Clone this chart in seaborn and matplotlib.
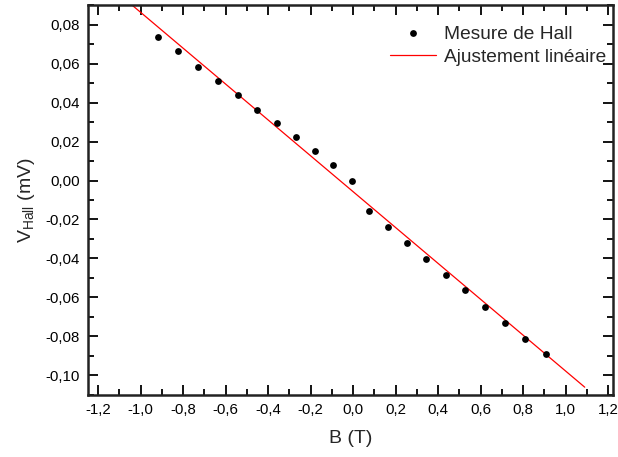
import numpy as np
import pandas as pd
import matplotlib
matplotlib.use("Agg")
import matplotlib.pyplot as plt
from matplotlib.ticker import FuncFormatter, MultipleLocator
import seaborn as sns

# Measured data (B in T, V_Hall in mV)
B_values = [-0.920, -0.825, -0.730, -0.635, -0.539, -0.451, -0.359, -0.268, -0.179,
            -0.092, -0.006, 0.076, 0.165, 0.254, 0.343, 0.435, 0.527, 0.621,
            0.714, 0.811, 0.906]
V_values = [0.0739, 0.0664, 0.0585, 0.0511, 0.0438, 0.0364, 0.0293, 0.0222, 0.0154,
            0.0082, 0.0000, -0.0159, -0.0238, -0.0320, -0.0402, -0.0483, -0.0563,
            -0.0649, -0.0729, -0.0813, -0.0892]

# Linear fit parameters
fit_slope = -0.0921
fit_intercept = -0.0057
fit_range = [-1.10, 1.09]

x_ticks = [-1.2, -1.0, -0.8, -0.6, -0.4, -0.2, 0.0, 0.2, 0.4, 0.6, 0.8, 1.0, 1.2]
y_ticks = [-0.10, -0.08, -0.06, -0.04, -0.02, 0.00, 0.02, 0.04, 0.06, 0.08]

sns.set_style("ticks")
plt.rcParams['font.family'] = ['Liberation Sans', 'DejaVu Sans']
plt.rcParams['mathtext.fontset'] = 'custom'
plt.rcParams['mathtext.rm'] = 'Liberation Sans'

data = pd.DataFrame({"B": B_values, "V": V_values})
fit_x = np.array(fit_range)
fit = pd.DataFrame({"B": fit_x, "V": fit_slope * fit_x + fit_intercept})

fig = plt.figure(figsize=(6.18, 4.57), dpi=100)
ax = fig.add_axes([0.1424, 0.1357, 0.8495, 0.8533])

sns.lineplot(data=fit, x="B", y="V", ax=ax, color="red", linewidth=0.9,
             label="Ajustement linéaire", zorder=2)
sns.scatterplot(data=data, x="B", y="V", ax=ax, color="black", s=24,
                edgecolor="black", linewidth=0, label="Mesure de Hall", zorder=3)

ax.set_xlim(-1.247, 1.223)
ax.set_ylim(-0.1101, 0.0901)
ax.set_xticks(x_ticks)
ax.set_yticks(y_ticks)
ax.xaxis.set_minor_locator(MultipleLocator(0.1))
ax.yaxis.set_minor_locator(MultipleLocator(0.01))

fmt_x = FuncFormatter(lambda v, p: f"{v:.1f}".replace(".", ",").replace("-0,0", "0,0"))
fmt_y = FuncFormatter(lambda v, p: f"{v:.2f}".replace(".", ",").replace("-0,00", "0,00"))
ax.xaxis.set_major_formatter(fmt_x)
ax.yaxis.set_major_formatter(fmt_y)

ax.tick_params(which="both", direction="in", top=True, right=True,
               labeltop=False, labelright=False, labelsize=10.8, colors="black")
ax.tick_params(which="major", length=7, width=1.3, pad=6)
ax.tick_params(which="minor", length=4, width=1.3)
for sp in ax.spines.values():
    sp.set_linewidth(1.8)
    sp.set_color("#222222")

ax.set_xlabel("B (T)", fontsize=14, labelpad=9)
ax.set_ylabel(r"V$_{\mathrm{Hall}}$ (mV)", fontsize=14, labelpad=6)

handles, labels = ax.get_legend_handles_labels()
order = [labels.index("Mesure de Hall"), labels.index("Ajustement linéaire")]
ax.legend([handles[i] for i in order], [labels[i] for i in order],
          loc="upper right", bbox_to_anchor=(1.009, 0.978), frameon=False,
          fontsize=13.8, handlelength=2.4, handletextpad=0.4,
          borderaxespad=0.2, labelspacing=0.3)

fig.savefig("out.png", dpi=100)
